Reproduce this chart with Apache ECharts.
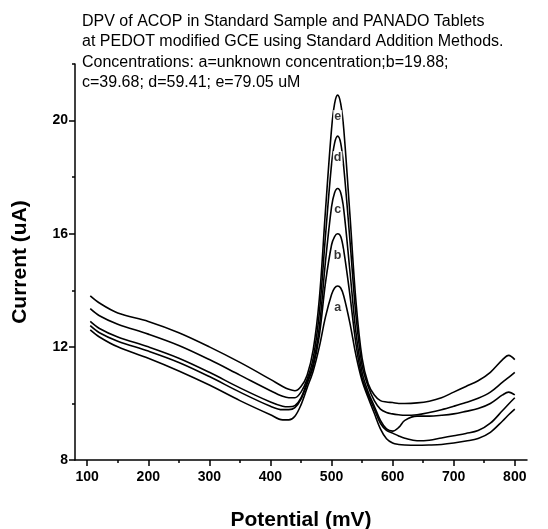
<!DOCTYPE html>
<html>
<head>
<meta charset="utf-8">
<script src="https://cdn.jsdelivr.net/npm/echarts@6/dist/echarts.min.js"></script>
<style>
  html, body { margin: 0; padding: 0; background: #fff; }
  #chart { width: 548px; height: 529px; }
</style>
</head>
<body>
<div id="chart"></div>
<script>
// Potential grid shared by all DPV curves (mV)
const potential = [105, 120, 150, 200, 250, 300, 350, 400, 420, 430, 440, 450, 460, 470, 480, 490, 500, 505, 510, 515, 520, 530, 540, 550, 560, 570, 580, 590, 600, 610, 620, 640, 660, 680, 700, 720, 740, 760, 780, 790, 800];

// Current (uA) for each addition step
const curveA = [12.6, 12.35, 12.0, 11.6, 11.15, 10.65, 10.1, 9.6, 9.42, 9.42, 9.55, 9.95, 10.55, 11.15, 12.0, 13.05, 13.85, 14.08, 14.15, 14.08, 13.8, 12.85, 11.7, 10.8, 10.2, 9.65, 9.1, 8.75, 8.6, 8.55, 8.53, 8.52, 8.53, 8.55, 8.6, 8.67, 8.76, 8.98, 9.38, 9.6, 9.8];
const curveB = [12.75, 12.5, 12.2, 11.85, 11.45, 10.95, 10.4, 9.9, 9.78, 9.78, 9.85, 10.15, 10.7, 11.3, 12.4, 14.25, 15.6, 15.9, 16.0, 15.9, 15.4, 13.85, 12.1, 10.9, 10.3, 9.8, 9.3, 9.05, 8.95, 8.85, 8.77, 8.68, 8.7, 8.78, 8.86, 8.94, 9.04, 9.3, 9.75, 9.98, 10.2];
const curveC = [12.9, 12.65, 12.35, 12.0, 11.6, 11.1, 10.55, 10.05, 9.9, 9.88, 9.92, 10.2, 10.75, 11.4, 12.7, 15.0, 16.95, 17.45, 17.6, 17.45, 16.85, 14.7, 12.5, 11.1, 10.4, 9.9, 9.4, 9.1, 9.02, 9.15, 9.4, 9.55, 9.55, 9.58, 9.63, 9.72, 9.82, 10.0, 10.3, 10.4, 10.3];
const curveD = [13.35, 13.1, 12.8, 12.45, 12.05, 11.55, 11.0, 10.45, 10.25, 10.2, 10.2, 10.4, 10.85, 11.6, 13.2, 15.9, 18.45, 19.2, 19.45, 19.2, 18.35, 15.8, 13.1, 11.35, 10.6, 10.1, 9.8, 9.68, 9.63, 9.6, 9.58, 9.6, 9.68, 9.78, 9.9, 10.03, 10.18, 10.4, 10.75, 10.92, 11.1];
const curveE = [13.8, 13.55, 13.2, 12.9, 12.5, 12.0, 11.45, 10.85, 10.6, 10.5, 10.45, 10.6, 11.0, 11.9, 13.7, 16.8, 19.7, 20.6, 20.9, 20.6, 19.7, 16.7, 13.6, 11.6, 10.7, 10.3, 10.1, 10.05, 10.03, 10.0, 10.0, 10.02, 10.08, 10.2, 10.4, 10.6, 10.8, 11.1, 11.55, 11.7, 11.55];

const curveNames = ['a', 'b', 'c', 'd', 'e'];
const curves = [curveA, curveB, curveC, curveD, curveE];
const peakPotential = 510;

const xMajor = [100, 200, 300, 400, 500, 600, 700, 800];
const xMinor = [150, 250, 350, 450, 550, 650, 750];
const yMajor = [8, 12, 16, 20];
const yMinor = [10, 14, 18, 22];

const titleLines = [
  'DPV of ACOP in Standard Sample and PANADO Tablets',
  'at PEDOT modified GCE using Standard Addition Methods.',
  'Concentrations: a=unknown concentration;b=19.88;',
  'c=39.68; d=59.41; e=79.05 uM'
];

const FONT = 'Liberation Sans, Arial, sans-serif';

// one black line per addition step
const lineSeries = curves.map((vals, i) => ({
  type: 'line',
  name: curveNames[i],
  smooth: 0.35,
  showSymbol: false,
  symbol: 'none',
  lineStyle: { color: '#000', width: 1.6 },
  data: potential.map((p, k) => [p, vals[k]]),
  silent: true,
  animation: false
}));

// letters a..e just under each peak top
const peakIndex = potential.indexOf(peakPotential);
const peakLabels = {
  type: 'scatter',
  symbolSize: 0,
  silent: true,
  animation: false,
  z: 5,
  data: curves.map((vals, i) => ({ value: [peakPotential, vals[peakIndex]], name: curveNames[i] })),
  label: {
    show: true,
    position: 'bottom',
    distance: 15,
    formatter: p => p.name,
    color: '#000',
    fontWeight: 'bold',
    fontSize: 12.5,
    fontFamily: FONT,
    backgroundColor: '#fff',
    padding: [0, 1]
  }
};

const chart = echarts.init(document.getElementById('chart'), null, { renderer: 'canvas' });

const axisLineStyle = { color: '#000', width: 1.5 };

chart.setOption({
  backgroundColor: '#fff',
  animation: false,
  title: {
    text: titleLines.join('\n'),
    left: 82,
    top: 11,
    padding: 0,
    textStyle: {
      fontFamily: FONT,
      fontSize: 16,
      fontWeight: 'normal',
      color: '#000',
      lineHeight: 20.5
    }
  },
  grid: { left: 75, right: 21, top: 64, bottom: 69, outerBoundsMode: 'none' },
  xAxis: [
    {
      type: 'value',
      min: 80,
      max: 820,
      name: 'Potential (mV)',
      nameLocation: 'middle',
      nameGap: 50,
      nameTextStyle: { fontFamily: FONT, fontSize: 21, fontWeight: 'bold', color: '#000' },
      axisLine: { show: true, lineStyle: axisLineStyle },
      axisTick: { show: true, customValues: xMajor, length: 6, lineStyle: axisLineStyle },
      axisLabel: { customValues: xMajor, color: '#000', fontFamily: FONT, fontSize: 14, fontWeight: 'bold', margin: 10 },
      splitLine: { show: false }
    },
    {
      type: 'value',
      min: 80,
      max: 820,
      position: 'bottom',
      axisLine: { show: false },
      axisTick: { show: true, customValues: xMinor, length: 3, lineStyle: axisLineStyle },
      axisLabel: { show: false },
      splitLine: { show: false }
    }
  ],
  yAxis: [
    {
      type: 'value',
      min: 8,
      max: 22,
      name: 'Current (uA)',
      nameLocation: 'middle',
      nameGap: 44,
      nameTextStyle: { fontFamily: FONT, fontSize: 21, fontWeight: 'bold', color: '#000' },
      axisLine: { show: true, lineStyle: axisLineStyle },
      axisTick: { show: true, customValues: yMajor, length: 6, lineStyle: axisLineStyle },
      axisLabel: { customValues: yMajor, color: '#000', fontFamily: FONT, fontSize: 14, fontWeight: 'bold', margin: 7 },
      splitLine: { show: false }
    },
    {
      type: 'value',
      min: 8,
      max: 22,
      position: 'left',
      axisLine: { show: false },
      axisTick: { show: true, customValues: yMinor, length: 3, lineStyle: axisLineStyle },
      axisLabel: { show: false },
      splitLine: { show: false }
    }
  ],
  series: lineSeries.concat([peakLabels])
});
</script>
</body>
</html>
